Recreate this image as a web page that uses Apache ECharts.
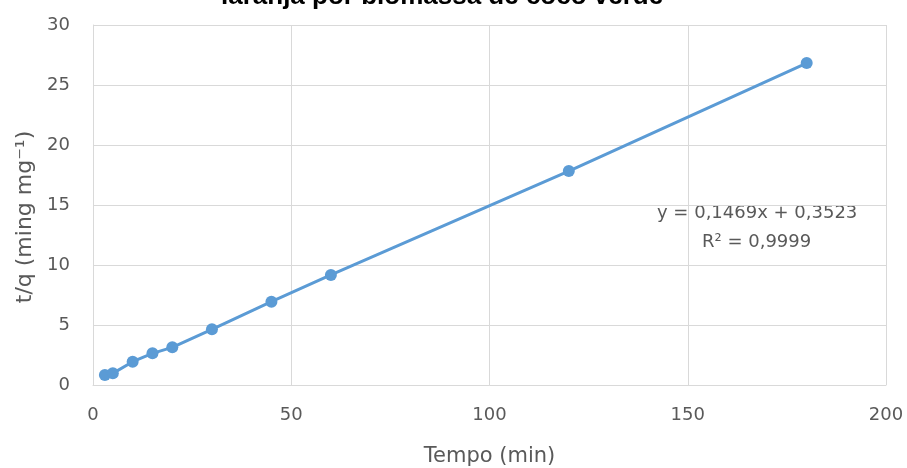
<!DOCTYPE html>
<html><head><meta charset="utf-8">
<script src="https://cdn.jsdelivr.net/npm/echarts@6/dist/echarts.min.js"></script>
<style>html,body{margin:0;padding:0;background:#fff}#c{width:907px;height:468px}</style>
</head><body><div id="c"></div>
<script>
var tempo = [3, 5, 10, 15, 20, 30, 45, 60, 120, 180];
var tq = [0.83, 0.97, 1.94, 2.64, 3.14, 4.64, 6.94, 9.17, 17.83, 26.83];
var titleText = 'laranja por biomassa de coco verde';
var eqText = 'y = 0,1469x + 0,3523';
var r2Text = 'R² = 0,9999';
var xName = 'Tempo (min)';
var yName = 't/q (ming mg⁻¹)';

var chart = echarts.init(document.getElementById('c'));
var font = '"DejaVu Sans", sans-serif';
var gray = '#595959';
chart.setOption({
  animation: false,
  title: { text: titleText, left: 221, top: -16, padding: 0,
    textStyle: { fontFamily: '"Liberation Sans", Arial, sans-serif', fontWeight: 'bold', fontSize: 26, color: '#000' } },
  grid: { left: 93, right: 21, top: 25, bottom: 83, containLabel: false, outerBoundsMode: 'none' },
  xAxis: { type: 'value', min: 0, max: 200, interval: 50,
    name: xName, nameLocation: 'middle', nameGap: 61,
    nameTextStyle: { fontFamily: font, fontSize: 21, color: gray },
    axisLine: { show: true, lineStyle: { color: '#d9d9d9', width: 1 } },
    axisTick: { show: false },
    axisLabel: { fontFamily: font, fontSize: 18, color: gray, margin: 21 },
    splitLine: { show: true, lineStyle: { color: '#d9d9d9', width: 1 } } },
  yAxis: { type: 'value', min: 0, max: 30, interval: 5,
    name: yName, nameLocation: 'middle', nameGap: 55,
    nameTextStyle: { fontFamily: font, fontSize: 22, color: gray, padding: [0, 24, 0, 0] },
    axisLine: { show: true, lineStyle: { color: '#d9d9d9', width: 1 } },
    axisTick: { show: false },
    axisLabel: { fontFamily: font, fontSize: 18, color: gray, margin: 23 },
    splitLine: { show: true, lineStyle: { color: '#d9d9d9', width: 1 } } },
  series: [{
    type: 'line',
    data: tempo.map(function (t, i) { return [t, tq[i]]; }),
    symbol: 'circle', symbolSize: 12,
    itemStyle: { color: '#5b9bd5' },
    lineStyle: { color: '#5b9bd5', width: 3 }
  }],
  graphic: [
    { type: 'text', left: 657, top: 204, style: { text: eqText, fontFamily: font, fontSize: 18, fill: gray } },
    { type: 'text', left: 702, top: 233, style: { text: r2Text, fontFamily: font, fontSize: 18, fill: gray } }
  ]
});
</script></body></html>
